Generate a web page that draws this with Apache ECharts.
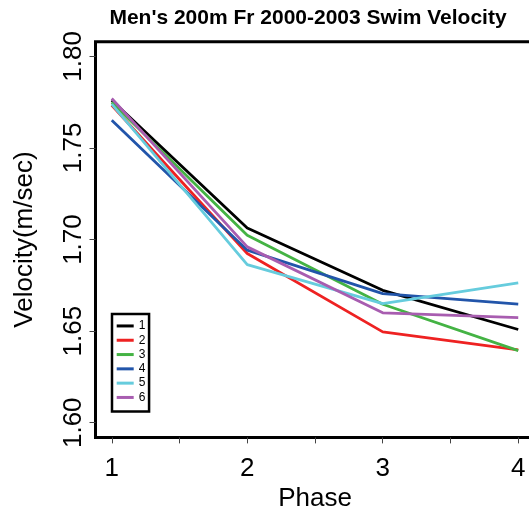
<!DOCTYPE html>
<html>
<head>
<meta charset="utf-8">
<script src="https://cdn.jsdelivr.net/npm/echarts@6/dist/echarts.min.js"></script>
<style>html,body{margin:0;padding:0;background:#fff;}#chart{width:529px;height:513px;}</style>
</head>
<body>
<div id="chart"></div>
<script>
const phases = [1, 2, 3, 4];
const seriesNames = ['1', '2', '3', '4', '5', '6'];
const s1 = [1.776, 1.7063, 1.6723, 1.6509];
const s2 = [1.7733, 1.6924, 1.6496, 1.6398];
const s3 = [1.7749, 1.7023, 1.6647, 1.6394];
const s4 = [1.7651, 1.6942, 1.6705, 1.6647];
const s5 = [1.7739, 1.6863, 1.6650, 1.6763];
const s6 = [1.7770, 1.6960, 1.6600, 1.6574];
const xTicks = [1, 1.5, 2, 2.5, 3, 3.5, 4];
const xLabels = [1, 2, 3, 4];
const yTicks = [1.60, 1.65, 1.70, 1.75, 1.80];
const colors = ['#000000', '#EE2222', '#44B344', '#2255AA', '#66CCDD', '#A85DB0'];

const allValues = [s1, s2, s3, s4, s5, s6];
const FONT = '"Liberation Sans", Arial, Helvetica, sans-serif';

const chart = echarts.init(document.getElementById('chart'));
chart.setOption({
  animation: false,
  backgroundColor: '#fff',
  textStyle: { fontFamily: FONT },
  title: {
    text: "Men's 200m Fr 2000-2003 Swim Velocity",
    left: 308, top: 8, padding: 0, textAlign: 'center',
    textStyle: { fontFamily: FONT, fontSize: 21, fontWeight: 'bold', color: '#000' }
  },
  grid: {
    left: 95.5, top: 41.7, width: 439, height: 395.7,
    outerBoundsMode: 'none', containLabel: false,
    show: true, borderColor: '#000', borderWidth: 3, backgroundColor: 'transparent'
  },
  legend: {
    orient: 'vertical', left: 112, top: 314,
    padding: [4.8, 3.7, 6.9, 4.7],
    borderColor: '#000', borderWidth: 2.5,
    itemWidth: 17, itemHeight: 3, itemGap: 0, icon: 'rect',
    data: seriesNames,
    textStyle: { fontFamily: FONT, fontSize: 12, color: '#000', lineHeight: 5.3, padding: [9, 0, 0, 0] }
  },
  xAxis: {
    type: 'value', min: 0.88, max: 4.12,
    name: 'Phase', nameLocation: 'middle', nameGap: 47,
    nameTextStyle: { fontFamily: FONT, fontSize: 26, color: '#000' },
    axisLine: { show: false },
    axisTick: { show: true, customValues: xTicks, length: 6, lineStyle: { color: '#444', width: 1 } },
    axisLabel: { customValues: xLabels, margin: 18, fontFamily: FONT, fontSize: 26, color: '#000', formatter: v => String(v) },
    splitLine: { show: false }
  },
  yAxis: {
    type: 'value', min: 1.592, max: 1.808,
    name: 'Velocity(m/sec)', nameLocation: 'middle', nameGap: 58, nameRotate: 90,
    nameTextStyle: { fontFamily: FONT, fontSize: 26, color: '#000' },
    axisLine: { show: false },
    axisTick: { show: true, customValues: yTicks, length: 6, lineStyle: { color: '#444', width: 1 } },
    axisLabel: { customValues: yTicks, rotate: 90, margin: 9, fontFamily: FONT, fontSize: 26, color: '#000', formatter: v => v.toFixed(2) },
    splitLine: { show: false }
  },
  series: seriesNames.map((n, i) => ({
    name: n, type: 'line', symbol: 'none', showSymbol: false,
    color: colors[i],
    lineStyle: { color: colors[i], width: 2.8 },
    data: phases.map((p, j) => [p, allValues[i][j]])
  }))
});
</script>
</body>
</html>
